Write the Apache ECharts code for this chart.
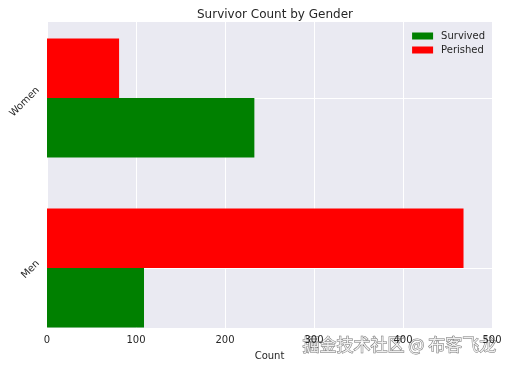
<!DOCTYPE html>
<html><head><meta charset="utf-8">
<script src="https://cdn.jsdelivr.net/npm/echarts@6/dist/echarts.min.js"></script>
<style>html,body{margin:0;padding:0;background:#fff}#c{width:509px;height:368px}</style>
</head><body><div id="c"></div>
<script>
// ---- data ----
const categories = ['Men', 'Women'];
const categoryPos = [0, 1];
const survived = [109, 233];
const perished = [468, 81];
const xTicks = [0, 100, 200, 300, 400, 500];
const seriesNames = ['Survived', 'Perished'];

// ---- style constants ----
const BAR_H = 0.35;           // bar height in category units
const COLORS = ['#008000', '#ff0000'];
const FONT = 'DejaVu Sans';
const TXT = '#262626';

function renderBar(params, api) {
  const v = api.value(0), p = api.value(1), side = api.value(2);
  const y0 = side < 0 ? p - BAR_H : p;
  const y1 = y0 + BAR_H;
  const a = api.coord([0, y1]);
  const b = api.coord([v, y0]);
  return {
    type: 'rect',
    shape: {x: a[0], y: a[1], width: b[0] - a[0], height: b[1] - a[1]},
    style: {fill: COLORS[params.seriesIndex]}
  };
}

const chart = echarts.init(document.getElementById('c'), null, {renderer: 'canvas'});
chart.setOption({
  animation: false,
  textStyle: {fontFamily: FONT},
  title: {
    text: 'Survivor Count by Gender', left: 270, top: 4, textAlign: 'center',
    textStyle: {fontFamily: FONT, fontSize: 12, fontWeight: 'normal', color: TXT}
  },
  legend: {
    data: seriesNames, right: 19, top: 26, orient: 'vertical',
    icon: 'rect', itemWidth: 21, itemHeight: 7, itemGap: 4,
    textStyle: {fontFamily: FONT, fontSize: 10, color: TXT, padding: [0, 0, 0, 3]}
  },
  grid: {left: 47, right: 17, top: 22, bottom: 40, show: true, backgroundColor: '#EAEAF2', borderWidth: 0},
  xAxis: {
    type: 'value', min: xTicks[0], max: xTicks[xTicks.length - 1], interval: 100,
    name: 'Count', nameLocation: 'middle', nameGap: 23,
    nameTextStyle: {fontFamily: FONT, fontSize: 10, color: TXT},
    axisLine: {show: false}, axisTick: {show: false},
    axisLabel: {fontFamily: FONT, fontSize: 10, color: TXT, margin: 7},
    splitLine: {show: true, lineStyle: {color: '#fff', width: 1}}
  },
  yAxis: {
    type: 'value', min: -0.353, max: 1.447,
    axisLine: {show: false},
    axisTick: {show: false, customValues: categoryPos},
    axisLabel: {
      customValues: [0.035, 1.055], rotate: 45, margin: 9,
      fontFamily: FONT, fontSize: 10, color: TXT,
      formatter: v => categories[Math.round(v)]
    },
    splitLine: {show: true, lineStyle: {color: '#fff', width: 1}}
  },
  series: [
    {
      name: seriesNames[0], type: 'custom', renderItem: renderBar, itemStyle: {color: COLORS[0]},
      encode: {x: 0, y: 1}, data: categories.map((c, i) => [survived[i], categoryPos[i], -1])
    },
    {
      name: seriesNames[1], type: 'custom', renderItem: renderBar, itemStyle: {color: COLORS[1]},
      encode: {x: 0, y: 1}, data: categories.map((c, i) => [perished[i], categoryPos[i], 1])
    }
  ],
  graphic: [{
    type: 'text', left: 302, top: 336, silent: true,
    style: {
      text: '掘金技术社区 @ 布客飞龙', fontFamily: 'Noto Sans CJK SC', fontSize: 17,
      fill: 'rgba(255,255,255,0.85)', stroke: 'rgba(90,90,90,0.85)', lineWidth: 1
    }
  }]
});
</script></body></html>
